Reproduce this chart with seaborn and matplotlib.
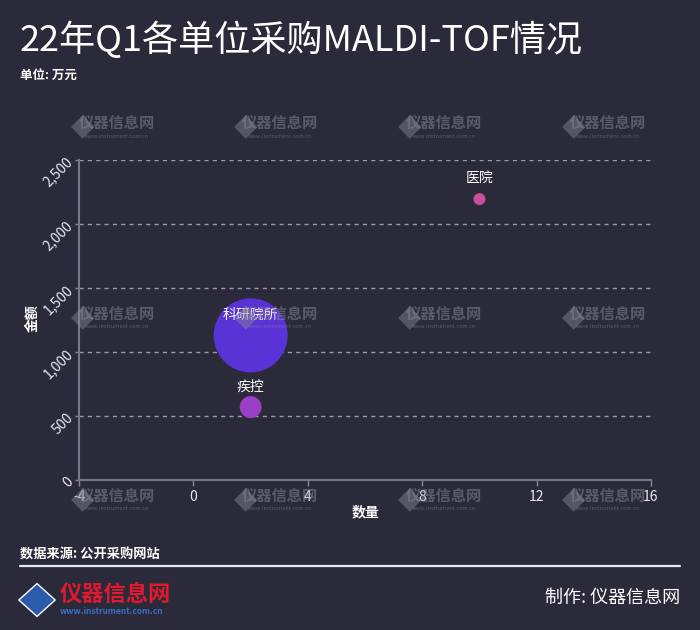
import matplotlib
matplotlib.use("Agg")
import matplotlib.pyplot as plt
import seaborn as sns
import pandas as pd
from matplotlib.patches import RegularPolygon

# ---- data ----
units = ["医院", "科研院所", "疾控"]
quantity = [10, 2, 2]
amount = [2195, 1130, 570]
bubble = [75, 2840, 250]
colors = ["#c94f96", "#5a33d6", "#9a3fc6"]

x_ticks = [-4, 0, 4, 8, 12, 16]
y_ticks = [0, 500, 1000, 1500, 2000, 2500]
y_tick_labels = ["0", "500", "1,000", "1,500", "2,000", "2,500"]

BG = "#2b2a3b"
sns.set_theme(style="dark")
plt.rcParams["font.family"] = ["Noto Sans CJK SC", "DejaVu Sans"]

df = pd.DataFrame({"单位": units, "数量": quantity, "金额": amount, "气泡": bubble})

fig = plt.figure(figsize=(7, 6.3), dpi=100, facecolor=BG)
ax = fig.add_axes([0.113, 0.238, 0.817, 0.508])
ax.set_facecolor(BG)

sns.scatterplot(data=df, x="数量", y="金额", hue="单位", size="气泡",
                palette=dict(zip(units, colors)), sizes=(min(bubble), max(bubble)),
                size_norm=(min(bubble), max(bubble)), linewidth=0, alpha=1,
                legend=False, ax=ax, zorder=3)

for u, xv, yv in zip(units, quantity, amount):
    ax.annotate(u, (xv, yv), xytext=(0, 10), textcoords="offset points",
                ha="center", va="bottom", color="white", fontsize=10, zorder=4)

ax.set_xlim(-4, 16)
ax.set_ylim(0, 2500)
ax.set_xticks(x_ticks)
ax.set_xticklabels([str(t) for t in x_ticks], color="#e8e8ee", fontsize=10)
ax.set_yticks(y_ticks)
ax.set_yticklabels(y_tick_labels, color="#e8e8ee", fontsize=10, rotation=45,
                   ha="right", va="center", rotation_mode="anchor")
ax.tick_params(axis="x", length=4, width=1, color="#888899", direction="out", bottom=True, pad=3)
ax.tick_params(axis="y", length=3, width=1, color="#888899", direction="out", left=True, pad=3)

ax.grid(False)
for yv in y_ticks[1:]:
    ax.axhline(yv, color="#9a9aaa", linestyle=(0, (3, 3)), linewidth=1, zorder=1)

for s in ["top", "right"]:
    ax.spines[s].set_visible(False)
for s in ["left", "bottom"]:
    ax.spines[s].set_color("#77778a")
    ax.spines[s].set_linewidth(1.5)

ax.set_xlabel("数量", color="white", fontsize=10, fontweight="bold")
ax.set_ylabel("金额", color="white", fontsize=10, fontweight="bold")
ax.xaxis.set_label_coords(0.5, -0.08)
ax.yaxis.set_label_coords(-0.07, 0.506)

# title & subtitle
fig.text(20 / 700, 1 - 40 / 630, "22年Q1各单位采购MALDI-TOF情况", color="white",
         fontsize=26, va="center", ha="left")
fig.text(20 / 700, 1 - 75 / 630, "单位: 万元", color="white", fontsize=9,
         fontweight="bold", va="center", ha="left")

# watermarks
for wy in [127, 318, 500]:
    for wx in [105, 268, 432, 596]:
        fig.text((wx - 22) / 700, 1 - wy / 630, "◆", color="#8a8a96", alpha=0.45,
                 fontsize=22, ha="center", va="center", family=["DejaVu Sans"])
        fig.text((wx + 12) / 700, 1 - (wy - 4) / 630, "仪器信息网", color="#8a8a96",
                 alpha=0.5, fontsize=11, fontweight="bold", style="italic",
                 ha="center", va="center")
        fig.text((wx + 12) / 700, 1 - (wy + 9) / 630, "www.instrument.com.cn", color="#8a8a96",
                 alpha=0.5, fontsize=4, ha="center", va="center")

# footer
fig.text(20 / 700, 1 - 555 / 630, "数据来源: 公开采购网站", color="white", fontsize=9.5,
         fontweight="bold", va="center", ha="left")
fig.add_artist(plt.Line2D([20 / 700, 680 / 700], [1 - 566 / 630, 1 - 566 / 630],
                          color="#e8e8ee", linewidth=1.6, transform=fig.transFigure))

diamond = RegularPolygon((37 / 700, 1 - 600 / 630), numVertices=4, radius=0.026,
                         orientation=0, transform=fig.transFigure, facecolor="#2a5caa",
                         edgecolor="white", linewidth=1)
fig.add_artist(diamond)
fig.text(60 / 700, 1 - 594 / 630, "仪器信息网", color="#e0192e", fontsize=16,
         fontweight="bold", style="italic", va="center", ha="left")
fig.text(60 / 700, 1 - 612 / 630, "www.instrument.com.cn", color="#3a6fc4", fontsize=6,
         fontweight="bold", va="center", ha="left")

fig.text(680 / 700, 1 - 598 / 630, "制作: 仪器信息网", color="white", fontsize=13,
         va="center", ha="right")

fig.savefig("out.png", dpi=100, facecolor=BG)
